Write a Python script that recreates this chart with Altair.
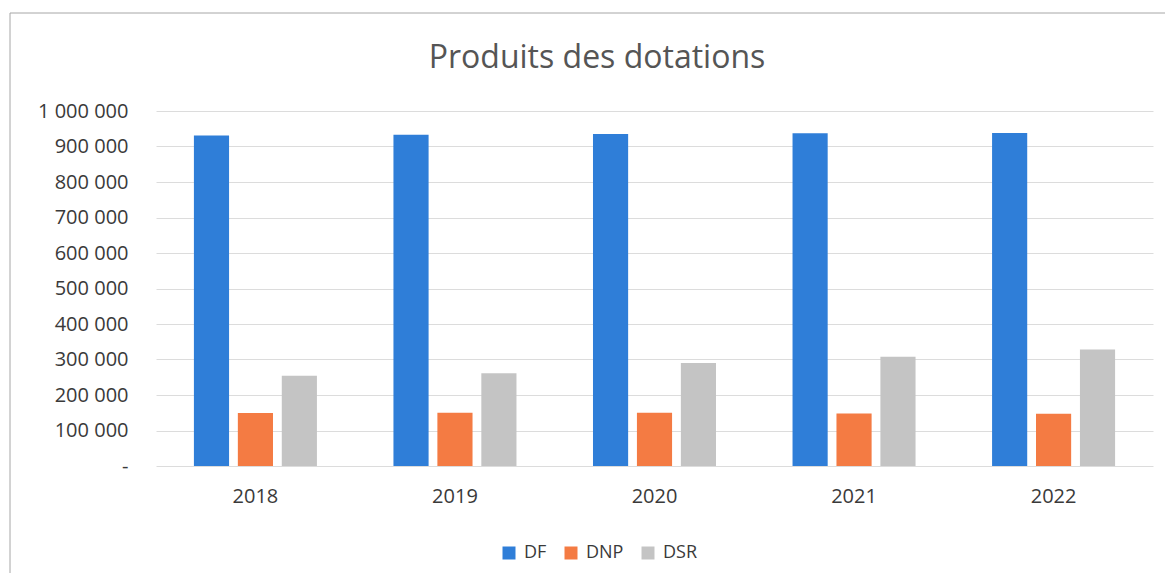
import altair as alt
import pandas as pd

years = ["2018", "2019", "2020", "2021", "2022"]
series = ["DF", "DNP", "DSR"]
df_vals = [931000, 933000, 935000, 937000, 938000]
dnp_vals = [149000, 150000, 150000, 148000, 147000]
dsr_vals = [254000, 261000, 290000, 308000, 328000]
colors = ["#2F7ED8", "#F47B43", "#C4C4C4"]
y_ticks = list(range(0, 1000001, 100000))

rows = []
for i, yr in enumerate(years):
    for s, vals in zip(series, [df_vals, dnp_vals, dsr_vals]):
        rows.append({"year": yr, "serie": s, "value": vals[i]})
data = pd.DataFrame(rows)

FONT = "Open Sans"
TXT = "#3A3A3A"

border = alt.Chart(pd.DataFrame({"a": [0]})).mark_rect(
    filled=False, stroke="#A6A6A6", strokeWidth=1
).encode(
    x=alt.value(-146), x2=alt.value(1040), y=alt.value(-98), y2=alt.value(490)
)

bars = alt.Chart(data).mark_bar().encode(
    x=alt.X(
        "year:N",
        sort=years,
        scale=alt.Scale(paddingInner=0.3835, paddingOuter=0.19),
        axis=alt.Axis(
            title=None, labelAngle=0, labelFontSize=20, labelFont=FONT,
            labelColor=TXT, labelPadding=20, ticks=False, domain=False,
        ),
    ),
    xOffset=alt.XOffset(
        "serie:N", sort=series, scale=alt.Scale(paddingInner=0.2, paddingOuter=0)
    ),
    y=alt.Y(
        "value:Q",
        scale=alt.Scale(domain=[0, 1000000], nice=False),
        axis=alt.Axis(
            values=y_ticks, title=None, labelFontSize=20, labelFont=FONT,
            labelColor=TXT, labelPadding=28, ticks=False, domain=False,
            gridColor="#DCDCDC", gridWidth=1,
            labelExpr="datum.value == 0 ? '-' : replace(replace(format(datum.value, ',d'), ',', ' '), ',', ' ')",
        ),
    ),
    color=alt.Color(
        "serie:N",
        sort=series,
        scale=alt.Scale(domain=series, range=colors),
        legend=alt.Legend(
            title=None, orient="none", direction="horizontal",
            legendX=344, legendY=433, padding=0,
            symbolType="square", symbolSize=169, symbolStrokeWidth=0,
            labelFontSize=18, labelFont=FONT, labelColor=TXT,
            labelOffset=6, columnPadding=15,
        ),
    ),
)

chart = alt.layer(border, bars).properties(
    width=997,
    height=355,
    title=alt.Title(
        "Produits des dotations", fontSize=32, font=FONT, color="#555555",
        fontWeight="normal", anchor="middle", frame="group", dx=-57.5,
        baseline="alphabetic", offset=-87,
    ),
    autosize=alt.AutoSizeParams(type="none"),
    padding={"left": 148, "top": 103, "right": 12, "bottom": 107},
).configure(background="white").configure_view(stroke=None)

chart.save("out.html", embed_options={"renderer": "svg", "actions": False})
